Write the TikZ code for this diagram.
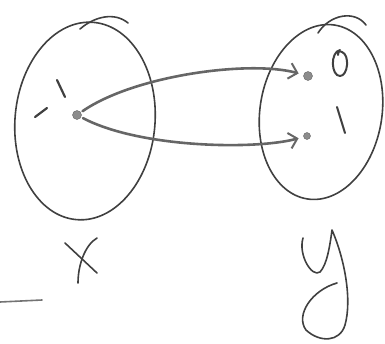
\documentclass[tikz,border=0pt]{standalone}
\usetikzlibrary{shapes.geometric,arrows.meta}
\begin{document}
\begin{tikzpicture}[x=1pt,y=-1pt,
  pen/.style={draw=black!75, line width=1.6pt, line cap=round, line join=round},
  setshape/.style={pen, ellipse, inner sep=0pt},
  dotmark/.style={circle, fill=black!45, draw=black!60, inner sep=0pt, minimum size=9pt},
  arr/.style={pen, draw=black!60, line width=2.6pt, -{Straight Barb[length=8pt,width=16pt,line width=2pt]}, shorten >=5pt, shorten <=2pt}]
\useasboundingbox (0,0) rectangle (385,343);
% sets
\node[setshape, minimum width=140pt, minimum height=198pt, rotate=-5] (X) at (85,121) {};
\node[setshape, minimum width=122pt, minimum height=176pt, rotate=-9] (Y) at (321,112) {};
% extra strokes above the sets
\draw[pen] (80,29) .. controls (95,16) and (115,12) .. (128,23);
\draw[pen] (318,33) .. controls (330,14) and (355,10) .. (366,25);
% points
\node[dotmark] (a) at (77,115) {};
\node[dotmark] (b0) at (308,76) {};
\node[dotmark, minimum size=7pt] (b1) at (307,136) {};
% marks near a
\draw[pen, line width=2.2pt] (35,117) -- (47,108);
\draw[pen, line width=2.2pt] (57,80) -- (65,97);
% labels in Y
\draw[pen, line width=2pt] (340,50) .. controls (330,52) and (331,76) .. (340,76) .. controls (348,76) and (350,55) .. (342,52) .. controls (339,50) and (337,53) .. (338,55);
\draw[pen, line width=2pt] (337,107) -- (345,133);
% arrows
\draw[arr] (a) .. controls (135,75) and (250,60) .. (b0);
\draw[arr] (a) .. controls (140,148) and (255,150) .. (b1);
% X label
\draw[pen] (65,243) -- (97,273);
\draw[pen] (97,238) .. controls (85,245) and (78,265) .. (78,283);
% left stroke
\draw[pen, draw=black!55] (0,302) -- (42,300);
% y label
\draw[pen] (303,238) .. controls (298,255) and (312,278) .. (320,272) .. controls (327,265) and (330,245) .. (332,230)
  .. controls (345,260) and (352,300) .. (345,325) .. controls (340,342) and (320,343) .. (306,330)
  .. controls (295,315) and (312,290) .. (337,283);
\end{tikzpicture}
\end{document}
